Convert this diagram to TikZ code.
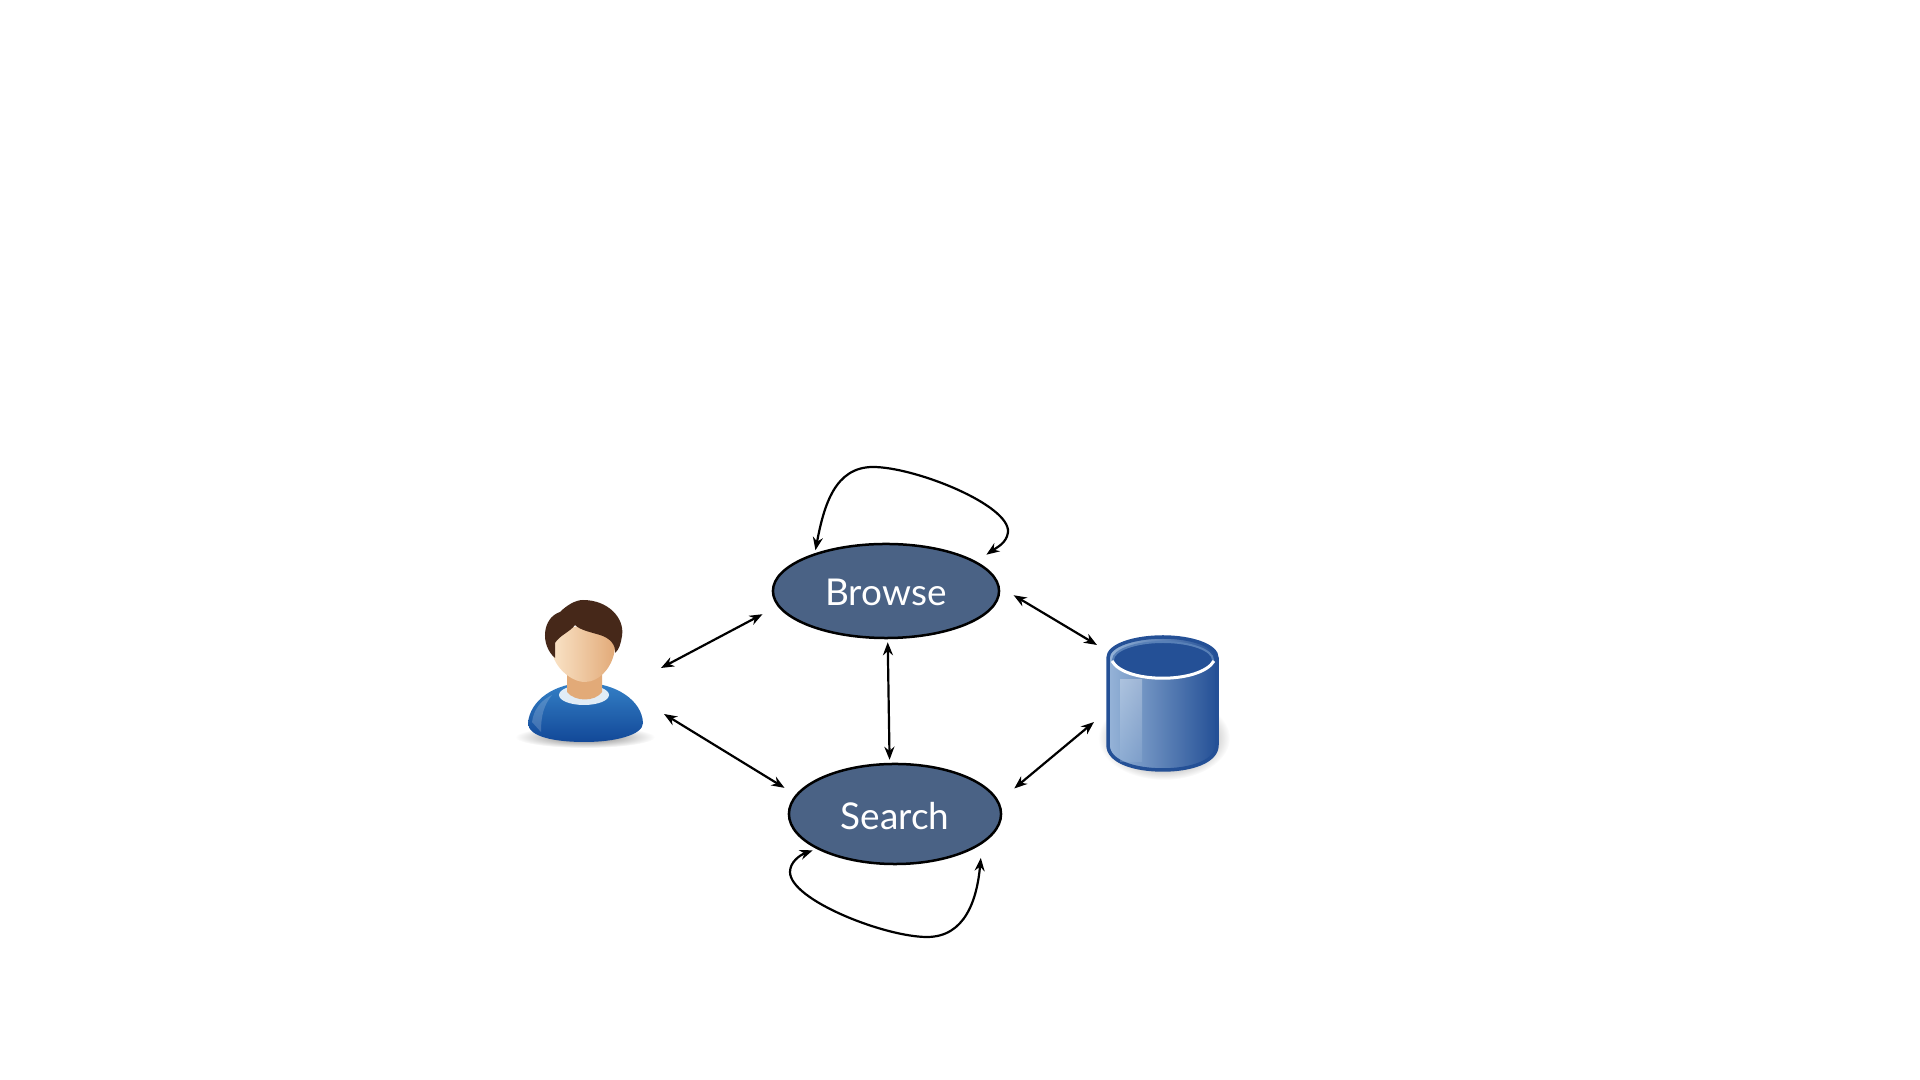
\documentclass[tikz,border=0pt]{standalone}
\usepackage{xcolor}
\usepackage{fontspec}
\setmainfont{Lato}
\usetikzlibrary{arrows.meta, shapes.geometric}
\definecolor{slateblue}{RGB}{74,98,133}
\definecolor{dbdark}{RGB}{36,80,150}
\definecolor{dbmid}{RGB}{88,128,183}
\definecolor{dblight}{RGB}{150,180,216}
\definecolor{shirtlight}{RGB}{52,128,198}
\definecolor{shirtdark}{RGB}{18,72,152}
\definecolor{skinlight}{RGB}{250,228,200}
\definecolor{skindark}{RGB}{226,170,120}
\definecolor{hairbrown}{RGB}{70,40,25}
\tikzset{
  state/.style={ellipse, draw=black, line width=0.25mm, fill=slateblue, inner sep=0pt,
    text=white, font=\fontsize{10.5}{13}\selectfont, text height=3mm, text depth=0pt},
  link/.style={{Stealth[length=1.3mm,width=1mm]}-{Stealth[length=1.3mm,width=1mm]}, line width=0.22mm, black},
}
\begin{document}
\begin{tikzpicture}[x=0.01cm, y=-0.01cm]
  \useasboundingbox (0,0) rectangle (1920,1080);
  % ---- states ----
  \node[state, minimum width=2.26cm, minimum height=0.94cm] (browse) at (886,591) {Browse};
  \node[state, minimum width=2.12cm, minimum height=1.00cm] (search) at (895,814) {Search};
  % ---- free ends at the two icons ----
  \coordinate (userb) at (661,668);
  \coordinate (users) at (664,714);
  \coordinate (dbb) at (1097,645);
  \coordinate (dbs) at (1094,722);
  % ---- user icon ----
  \shade[inner color=black!55, outer color=white] (585,737) ellipse (70 and 11);
  \shade[top color=shirtlight, bottom color=shirtdark]
    (528,723) .. controls (530,700) and (555,683) .. (585,683)
    .. controls (615,683) and (642,700) .. (643,723)
    .. controls (643,735) and (615,742) .. (585,742)
    .. controls (555,742) and (528,737) .. (528,723) -- cycle;
  \fill[white, opacity=0.18] (532,722) .. controls (534,708) and (542,700) .. (552,695)
    .. controls (544,705) and (541,715) .. (541,732) -- cycle;
  \fill[shirtlight!15] (584,695) ellipse (25 and 10);
  \fill[skindark] (567,670) -- (602,670) -- (602,692) .. controls (595,702) and (575,702) .. (567,692) -- cycle;
  \shade[left color=skinlight, right color=skindark]
    (551,645) .. controls (551,620) and (615,620) .. (615,645)
    .. controls (615,665) and (600,682) .. (585,682)
    .. controls (570,682) and (551,665) .. (551,645) -- cycle;
  \fill[hairbrown] (555,658) .. controls (540,645) and (542,618) .. (560,612)
    .. controls (566,606) and (575,600) .. (583,600)
    .. controls (608,600) and (625,618) .. (622,636)
    .. controls (621,643) and (619,650) .. (615,653)
    .. controls (616,645) and (610,638) .. (600,635)
    .. controls (590,632) and (580,630) .. (575,625)
    .. controls (570,632) and (560,635) .. (555,643) -- cycle;
  % ---- database icon ----
  \shade[inner color=black!85, outer color=white] (1164,738) ellipse (66 and 42);
  \shade[left color=dblight, middle color=dbmid, right color=dbdark, draw=dbdark, line width=0.35mm]
    (1108,658) -- (1108,745) .. controls (1108,762) and (1135,770) .. (1163,770)
    .. controls (1190,770) and (1217,762) .. (1217,745) -- (1217,658)
    .. controls (1217,645) and (1190,637) .. (1163,637)
    .. controls (1135,637) and (1108,645) .. (1108,658) -- cycle;
  \shade[top color=white, bottom color=dblight, opacity=0.3] (1120,680) rectangle (1142,762);
  \fill[dbdark, draw=dbmid, line width=0.2mm] (1163,660) ellipse (50 and 18);
  \draw[white, line width=0.3mm] (1112,661) .. controls (1125,684) and (1200,684) .. (1214,661);
  % ---- connectors ----
  \draw[link, shorten >=1.7mm] (userb) -- (browse.188);
  \draw[link, shorten >=1.3mm] (users) -- (search.169);
  \draw[link, shorten <=0.3mm, shorten >=0.3mm] (browse.272) -- (search.96);
  \draw[link, shorten <=1.6mm] (browse.2) -- (dbb);
  \draw[link, shorten <=2mm] (search.7) -- (dbs);
  % ---- self loops ----
  \draw[link, shorten <=0.3mm, shorten >=1.2mm] (browse.152) .. controls (824,505) and (835,467) .. (873,467)
    .. controls (915,467) and (1010,505) .. (1008,532)
    .. controls (1007,543) and (996,548) .. (browse.18);
  \draw[link, shorten <=0.4mm, shorten >=1.4mm] (search.204) .. controls (800,855) and (790,862) .. (790,872)
    .. controls (790,900) and (885,937) .. (927,937)
    .. controls (965,937) and (977,900) .. (search.341);
\end{tikzpicture}
\end{document}
